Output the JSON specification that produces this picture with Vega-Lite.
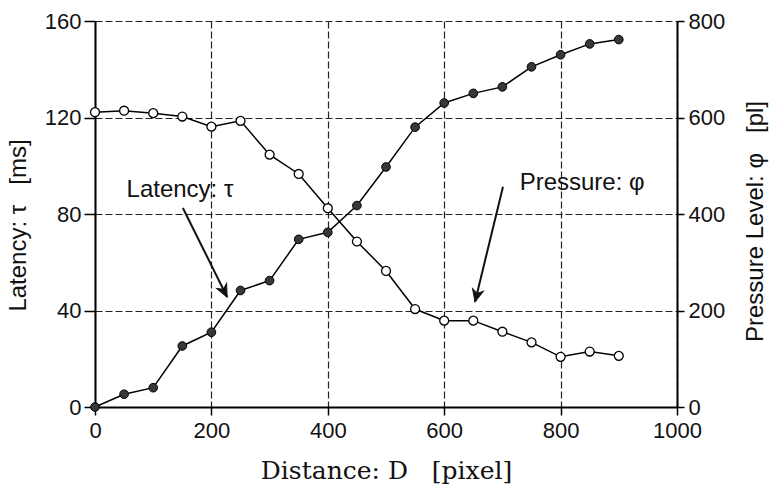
{
  "$schema": "https://vega.github.io/schema/vega-lite/v6.json",
  "width": 582,
  "height": 386,
  "autosize": {"type": "none"},
  "padding": {"left": 95, "top": 21, "right": 99, "bottom": 87},
  "background": "white",
  "config": {"view": {"stroke": null}, "font": "Liberation Sans"},
  "datasets": {
    "lat": [
      {"distance": 0, "latency": 0},
      {"distance": 50, "latency": 5.3},
      {"distance": 100, "latency": 8},
      {"distance": 150, "latency": 25.3},
      {"distance": 200, "latency": 31},
      {"distance": 250, "latency": 48.3},
      {"distance": 300, "latency": 52.4},
      {"distance": 350, "latency": 69.5},
      {"distance": 400, "latency": 72.4},
      {"distance": 450, "latency": 83.5},
      {"distance": 500, "latency": 99.5},
      {"distance": 550, "latency": 116},
      {"distance": 600, "latency": 126},
      {"distance": 650, "latency": 130},
      {"distance": 700, "latency": 132.7},
      {"distance": 750, "latency": 141},
      {"distance": 800, "latency": 146},
      {"distance": 850, "latency": 150.5},
      {"distance": 900, "latency": 152.3}
    ],
    "pres": [
      {"distance": 0, "pressure": 611},
      {"distance": 50, "pressure": 614},
      {"distance": 100, "pressure": 609},
      {"distance": 150, "pressure": 602},
      {"distance": 200, "pressure": 581},
      {"distance": 250, "pressure": 593},
      {"distance": 300, "pressure": 523},
      {"distance": 350, "pressure": 483},
      {"distance": 400, "pressure": 412},
      {"distance": 450, "pressure": 343},
      {"distance": 500, "pressure": 282},
      {"distance": 550, "pressure": 203},
      {"distance": 600, "pressure": 179},
      {"distance": 650, "pressure": 179},
      {"distance": 700, "pressure": 156},
      {"distance": 750, "pressure": 134},
      {"distance": 800, "pressure": 104},
      {"distance": 850, "pressure": 115},
      {"distance": 900, "pressure": 106}
    ],
    "labels": [
      {"distance": 146, "latency": 87.1, "text": "Latency: τ"},
      {"distance": 837, "latency": 90, "text": "Pressure: φ"}
    ],
    "arrows": [
      {"name": "lat", "distance": 151, "latency": 82.5, "distance2": 227, "latency2": 45.6},
      {"name": "pres", "distance": 701, "latency": 91.3, "distance2": 653, "latency2": 43.6}
    ]
  },
  "layer": [
    {
      "layer": [
        {
          "data": {"name": "lat"},
          "mark": {"type": "line", "color": "black", "strokeWidth": 1.5},
          "encoding": {
            "x": {
              "field": "distance",
              "type": "quantitative",
              "scale": {"domain": [0, 1000], "nice": false, "zero": false},
              "axis": {
                "title": "Distance: D\u00a0\u00a0\u00a0[pixel]",
                "values": [0, 200, 400, 600, 800, 1000],
                "format": "d",
                "grid": true,
                "gridColor": "#222",
                "gridDash": [7, 3],
                "gridWidth": 1.2,
                "domainColor": "black",
                "domainWidth": 2,
                "tickColor": "black",
                "tickSize": 8,
                "tickWidth": 1.5,
                "labelPadding": 5,
                "labelFlush": false,
                "labelOverlap": false,
                "labelFont": "Liberation Sans",
                "labelFontSize": 22,
                "labelColor": "#111",
                "titleFont": "DejaVu Serif",
                "titleFontSize": 25,
                "titleFontWeight": "normal",
                "titleColor": "#111",
                "titleX": 291,
                "titleY": 71,
                "titleBaseline": "alphabetic",
                "titleAlign": "center"
              }
            },
            "y": {
              "field": "latency",
              "type": "quantitative",
              "scale": {"domain": [0, 160], "nice": false},
              "axis": {
                "title": "Latency: τ\u00a0\u00a0\u00a0[ms]",
                "values": [0, 40, 80, 120, 160],
                "grid": true,
                "gridColor": "#222",
                "gridDash": [7, 3],
                "gridWidth": 1.2,
                "domainColor": "black",
                "domainWidth": 2,
                "tickColor": "black",
                "tickSize": 11,
                "tickWidth": 1.5,
                "labelPadding": 3,
                "labelFlush": false,
                "labelOverlap": false,
                "labelFont": "Liberation Sans",
                "labelFontSize": 22,
                "labelColor": "#111",
                "titleFont": "Liberation Sans",
                "titleFontSize": 24,
                "titleFontWeight": "normal",
                "titleColor": "#111",
                "titleAngle": -90,
                "titleX": -77,
                "titleY": 204,
                "titleBaseline": "middle",
                "titleAlign": "center"
              }
            }
          }
        },
        {
          "data": {"name": "lat"},
          "mark": {"type": "point", "shape": "circle", "filled": true, "fill": "#383838", "stroke": "black", "strokeWidth": 1, "size": 75, "opacity": 1},
          "encoding": {
            "x": {"field": "distance", "type": "quantitative"},
            "y": {"field": "latency", "type": "quantitative"}
          }
        },
        {
          "data": {"name": "labels"},
          "mark": {"type": "text", "align": "center", "baseline": "alphabetic", "font": "Liberation Sans", "fontSize": 24, "color": "#111"},
          "encoding": {
            "x": {"field": "distance", "type": "quantitative"},
            "y": {"field": "latency", "type": "quantitative"},
            "text": {"field": "text"}
          }
        },
        {
          "data": {"name": "arrows"},
          "mark": {"type": "rule", "color": "#111", "strokeWidth": 2},
          "encoding": {
            "x": {"field": "distance", "type": "quantitative"},
            "y": {"field": "latency", "type": "quantitative"},
            "x2": {"field": "distance2"},
            "y2": {"field": "latency2"}
          }
        },
        {
          "data": {"name": "arrows"},
          "transform": [{"filter": "datum.name === 'lat'"}],
          "mark": {"type": "point", "shape": "M0,0 L0.45,1 L0,0.7 L-0.45,1 Z", "filled": true, "fill": "#111", "stroke": "#111", "strokeWidth": 1, "size": 600, "angle": 153.6, "opacity": 1},
          "encoding": {
            "x": {"field": "distance2", "type": "quantitative"},
            "y": {"field": "latency2", "type": "quantitative"}
          }
        },
        {
          "data": {"name": "arrows"},
          "transform": [{"filter": "datum.name === 'pres'"}],
          "mark": {"type": "point", "shape": "M0,0 L0.45,1 L0,0.7 L-0.45,1 Z", "filled": true, "fill": "#111", "stroke": "#111", "strokeWidth": 1, "size": 600, "angle": 193.6, "opacity": 1},
          "encoding": {
            "x": {"field": "distance2", "type": "quantitative"},
            "y": {"field": "latency2", "type": "quantitative"}
          }
        }
      ]
    },
    {
      "layer": [
        {
          "data": {"name": "pres"},
          "mark": {"type": "line", "color": "black", "strokeWidth": 1.5},
          "encoding": {
            "x": {"field": "distance", "type": "quantitative"},
            "y": {
              "field": "pressure",
              "type": "quantitative",
              "scale": {"domain": [0, 800], "nice": false},
              "axis": {
                "orient": "right",
                "title": "Pressure Level: φ\u00a0\u00a0\u00a0[pl]",
                "values": [0, 200, 400, 600, 800],
                "grid": false,
                "domainColor": "black",
                "domainWidth": 2,
                "tickColor": "black",
                "tickSize": 7,
                "tickWidth": 1.5,
                "labelPadding": 4,
                "labelFlush": false,
                "labelOverlap": false,
                "labelFont": "Liberation Sans",
                "labelFontSize": 22,
                "labelColor": "#111",
                "titleFont": "Liberation Sans",
                "titleFontSize": 24,
                "titleFontWeight": "normal",
                "titleColor": "#111",
                "titleAngle": -90,
                "titleX": 78,
                "titleY": 200,
                "titleBaseline": "middle",
                "titleAlign": "center"
              }
            }
          }
        },
        {
          "data": {"name": "pres"},
          "mark": {"type": "point", "shape": "circle", "filled": true, "fill": "white", "stroke": "black", "strokeWidth": 1.3, "size": 80, "opacity": 1},
          "encoding": {
            "x": {"field": "distance", "type": "quantitative"},
            "y": {"field": "pressure", "type": "quantitative"}
          }
        }
      ]
    }
  ],
  "resolve": {"scale": {"y": "independent"}}
}
